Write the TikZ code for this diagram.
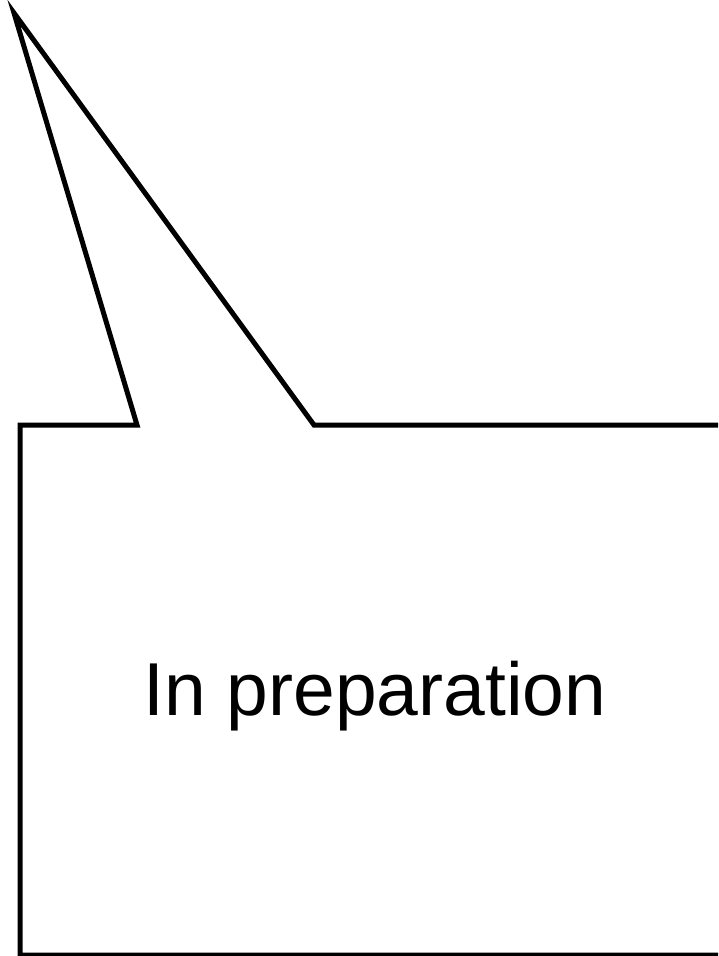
\documentclass[tikz,border=0pt]{standalone}
\usepackage{fontspec}
\setmainfont{Liberation Sans}
\begin{document}
\begin{tikzpicture}[x=1pt,y=-1pt,
  callout/.style={draw=black,line width=5pt,line join=miter,fill=white},
  label/.style={font=\fontsize{75}{90}\selectfont,inner sep=0pt,anchor=base}]
\useasboundingbox (0,0) rectangle (718,956);
\clip (0,0) rectangle (718,956);
\coordinate (tip) at (14,13);
\coordinate (bl) at (137,425);
\coordinate (br) at (314,425);
\draw[callout] (tip) -- (br) -- (740,425) -- (740,955) -- (20,955) -- (20,425) -- (bl) -- cycle;
\node[label] (txt) at (375,715) {In preparation};
\end{tikzpicture}
\end{document}
